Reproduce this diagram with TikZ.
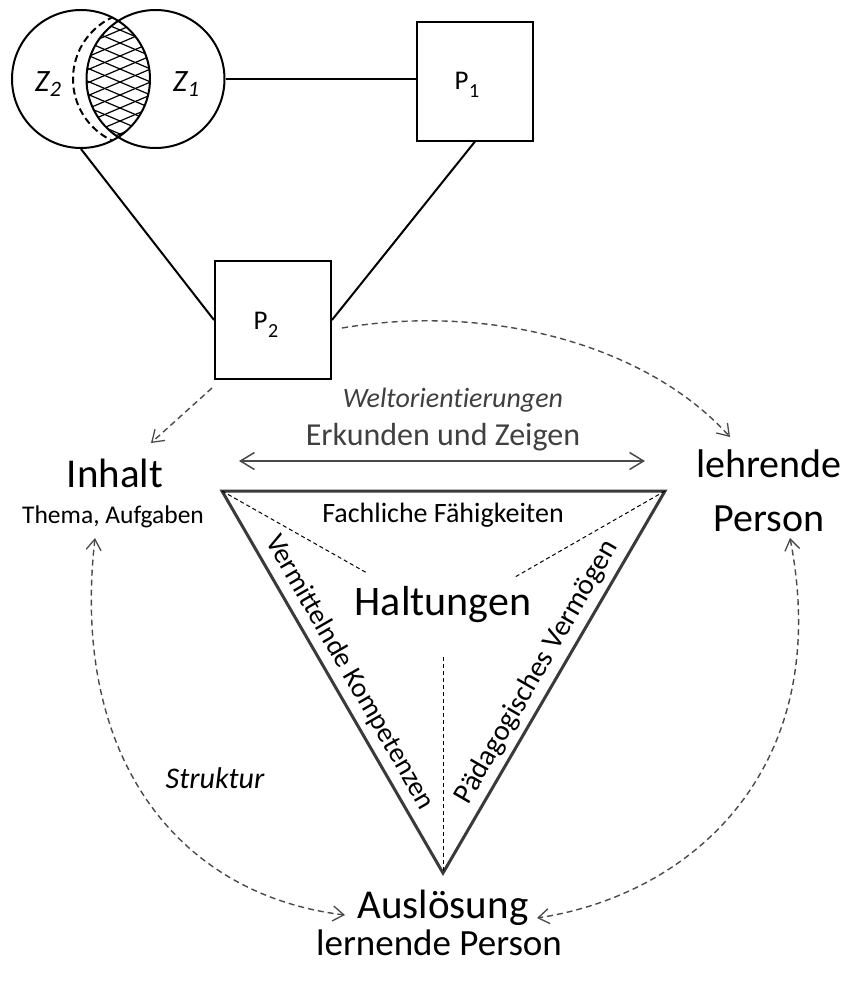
\documentclass[tikz,border=0pt]{standalone}
\usepackage{fontspec}
\setmainfont{Carlito}[Ligatures=NoCommon]
\usetikzlibrary{arrows.meta}
\definecolor{linkgray}{HTML}{4A4A4A}
\definecolor{edgegray}{HTML}{3A3A3A}
\definecolor{textgray}{HTML}{404040}
\newcommand\fsz[1]{\fontsize{#1}{#1}\selectfont}
% index set lower and larger than \textsubscript
\newcommand\idx[3]{\hspace{0.5pt}\raisebox{-#2pt}{\fsz{#1}#3}}
\begin{document}
\begin{tikzpicture}[x=1pt,y=-1pt,
  txt/.style={inner sep=0pt, anchor=base},
  venn/.style={draw, circle, line width=2pt, minimum size=138pt, inner sep=0pt},
  box/.style={draw, line width=2pt, minimum width=116pt, minimum height=118pt, inner sep=0pt},
  conn/.style={line width=2pt},
  tipb/.tip={Straight Barb[length=11pt,width=15pt,line width=1.3pt]},
  link/.style={draw=linkgray, line width=1.4pt, dash pattern=on 6pt off 4pt, -tipb},
  linkboth/.style={link, tipb-tipb},
  hint/.style={line width=1pt, dash pattern=on 4pt off 3pt},
]
\useasboundingbox (0,0) rectangle (850,982);
\fill[white] (0,0) rectangle (850,982);

% --- overlapping sets Z2 / Z1 with hatched intersection ---
\begin{scope}
  \clip (81,79) circle[radius=69];
  \clip (155.5,79) circle[radius=69];
  \foreach \k in {-4,...,12} {
    \draw[line width=1.2pt] (80,{\k*13}) -- (160,{\k*13+34});
    \draw[line width=1.2pt] (80,{\k*13+34}) -- (160,{\k*13});
  }
\end{scope}
\begin{scope}
  \clip (81,79) circle[radius=69];
  \draw[line width=2pt, dash pattern=on 7pt off 4pt] (141,79) circle[radius=68];
\end{scope}
\node[venn] (z2) at (81,79) {};
\node[venn] (z1) at (155.5,79) {};
\node[txt] (z2lab) at (48,92) {\fsz{31}\itshape Z\idx{22}{5}{2}};
\node[txt] (z1lab) at (186,92) {\fsz{31}\itshape Z\idx{22}{5}{1}};

% --- persons P1 and P2 ---
\node[box] (p1) at (475,81.5) {};
\node[box] (p2) at (273,320) {};
\node[txt] (p1lab) at (467,89) {\fsz{27}P\idx{20}{8}{1}};
\node[txt] (p2lab) at (266,329) {\fsz{27}P\idx{20}{8}{2}};
\draw[conn] (z1.east) -- (z1.east -| p1.west);
\draw[conn] (z2.south) -- (p2.west);
\draw[conn] (p1.south) -- (p2.east);

% --- corner labels ---
\node[txt] (inhalt) at (115,487) {\fsz{41}Inhalt};
\node[txt] (thema) at (113,523) {\fsz{25.5}Thema, Aufgaben};
\node[txt] (lehrende) at (769,477) {\fsz{40}lehrende};
\node[txt] (lperson) at (769,531) {\fsz{40}Person};
\node[txt] (ausl) at (443,918) {\fsz{41}Auslösung};
\node[txt] (lernende) at (439,955) {\fsz{37}lernende Person};
\node[txt, text=textgray] (welt) at (453,407) {\fsz{28}\itshape Weltorientierungen};
\node[txt, text=textgray] (erk) at (443,445) {\fsz{32}Erkunden und Zeigen};
\node[txt] (struktur) at (215,788) {\fsz{30}\itshape Struktur};

% --- triangle ---
\coordinate (ta) at (222,491);
\coordinate (tb) at (665,491);
\coordinate (tc) at (443,873);
\draw[edgegray, line width=3pt, line join=miter] (ta) -- (tb) -- (tc) -- cycle;
\node[txt] (halt) at (443,615) {\fsz{42}Haltungen};
\node[txt] (fach) at (443,522) {\fsz{28}Fachliche Fähigkeiten};
\node[txt, rotate=-60] (verm) at (343,676) {\fsz{28}Vermittelnde Kompetenzen};
\node[txt, rotate=60] (paed) at (543.5,676) {\fsz{29}Pädagogisches Vermögen};
\coordinate (ha) at (367,573);
\coordinate (hb) at (515,577);
\coordinate (hc) at (443,657);
\draw[hint] (ta) -- (ha);
\draw[hint] (tb) -- (hb);
\draw[hint] (hc) -- (tc);

% --- connector end points ---
\coordinate (p2sw) at (212,388);
\coordinate (p2e) at (342,328);
\coordinate (inTop) at (151,443);
\coordinate (inBot) at (95,538);
\coordinate (leTop) at (730,437);
\coordinate (leBot) at (790,538);
\coordinate (auL) at (345,915);
\coordinate (auR) at (537,918);
\coordinate (erkL) at (239,461);
\coordinate (erkR) at (645,461);

% --- connectors ---
\draw[link] (p2sw) -- (inTop);
\draw[link] (p2e) .. controls (495,302) and (650,348) .. (leTop);
\draw[linkboth] (inBot) .. controls (70,760) and (180,895) .. (auL);
\draw[linkboth] (leBot) .. controls (835,770) and (690,895) .. (auR);
\draw[linkgray, line width=1.5pt,
  {Straight Barb[length=14pt,width=17pt]}-{Straight Barb[length=14pt,width=17pt]}]
  (erkL) -- (erkR);
\end{tikzpicture}
\end{document}
